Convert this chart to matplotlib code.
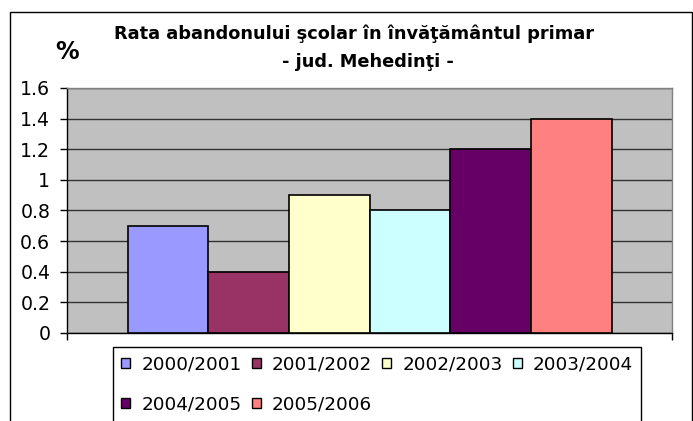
import numpy as np
import matplotlib
matplotlib.use("Agg")
import matplotlib.pyplot as plt
from matplotlib.patches import Patch, Rectangle

# ---- data ----
series_labels = ["2000/2001", "2001/2002", "2002/2003", "2003/2004", "2004/2005", "2005/2006"]
values = [0.7, 0.4, 0.9, 0.8, 1.2, 1.4]
colors = ["#9999FF", "#993366", "#FFFFCC", "#CCFFFF", "#660066", "#FF8080"]
yticks = [0, 0.2, 0.4, 0.6, 0.8, 1.0, 1.2, 1.4, 1.6]
ytick_labels = ["0", "0.2", "0.4", "0.6", "0.8", "1", "1.2", "1.4", "1.6"]
title_line1 = "Rata abandonului \u015fcolar \u00een \u00eenv\u0103\u0163\u0103m\u00e2ntul primar"
title_line2 = "- jud. Mehedin\u0163i -"
unit_label = "%"

plt.rcParams['font.family'] = ['DejaVu Sans']

W, H = 693, 421
fig = plt.figure(figsize=(W / 100, H / 100), dpi=100)
fig.patch.set_facecolor("white")

# outer chart frame
fig.patches.append(Rectangle((10 / W, -0.1), (692 - 10) / W, (1 - 12 / H) + 0.1,
                             transform=fig.transFigure, fill=False,
                             edgecolor="black", lw=1))

ax = fig.add_axes([67 / W, 1 - 333 / H, (672 - 67) / W, (333 - 88) / H])
ax.set_facecolor("#C0C0C0")

n = len(values)
x = np.arange(n) - (n - 1) / 2
ax.bar(x, values, width=1.0, color=colors, edgecolor="black", linewidth=1.2, zorder=3)

ax.set_xlim(-n / 2 - 0.75, n / 2 + 0.75)
ax.set_ylim(0, 1.6)
ax.set_yticks(yticks)
ax.set_yticklabels(ytick_labels, fontsize=13.6)
ax.yaxis.grid(True, color="#333333", lw=1, zorder=1)
ax.set_axisbelow(True)

ax.set_xticks([-n / 2 - 0.75, n / 2 + 0.75])
ax.set_xticklabels([])
ax.tick_params(axis="x", direction="out", length=5, width=1, color="black")
ax.tick_params(axis="y", direction="out", length=5, width=1, color="black", pad=7)

for s in ["top", "right"]:
    ax.spines[s].set_color("#808080")
    ax.spines[s].set_linewidth(1)
for s in ["left", "bottom"]:
    ax.spines[s].set_color("black")
    ax.spines[s].set_linewidth(1)

# titles
fig.text(354 / W, 1 - 34 / H, title_line1, ha="center", va="center",
         fontsize=12.8, fontweight="bold")
fig.text(368 / W, 1 - 62 / H, title_line2, ha="center", va="center",
         fontsize=12.8, fontweight="bold")
fig.text(67 / W, 1 - 52 / H, unit_label, ha="center", va="center",
         fontsize=17, fontweight="bold")

# legend: row-wise order (matplotlib fills columns first)
ncol = 4
nrow = int(np.ceil(n / ncol))
order = []
for c in range(ncol):
    for r in range(nrow):
        i = r * ncol + c
        if i < n:
            order.append(i)
handles = [Patch(facecolor=colors[i], edgecolor="black", lw=1) for i in order]
labels = [series_labels[i] for i in order]
leg = fig.legend(handles, labels, loc="upper left",
                 bbox_to_anchor=(113 / W, 1 - 347 / H), ncol=ncol,
                 fontsize=13.2, frameon=True, fancybox=False,
                 edgecolor="black", framealpha=1,
                 handlelength=0.5, handleheight=0.5, handletextpad=0.6,
                 columnspacing=0.55, labelspacing=1.2, borderpad=0.45,
                 borderaxespad=0)
leg.get_frame().set_linewidth(1)

fig.savefig("out.png", dpi=100)
